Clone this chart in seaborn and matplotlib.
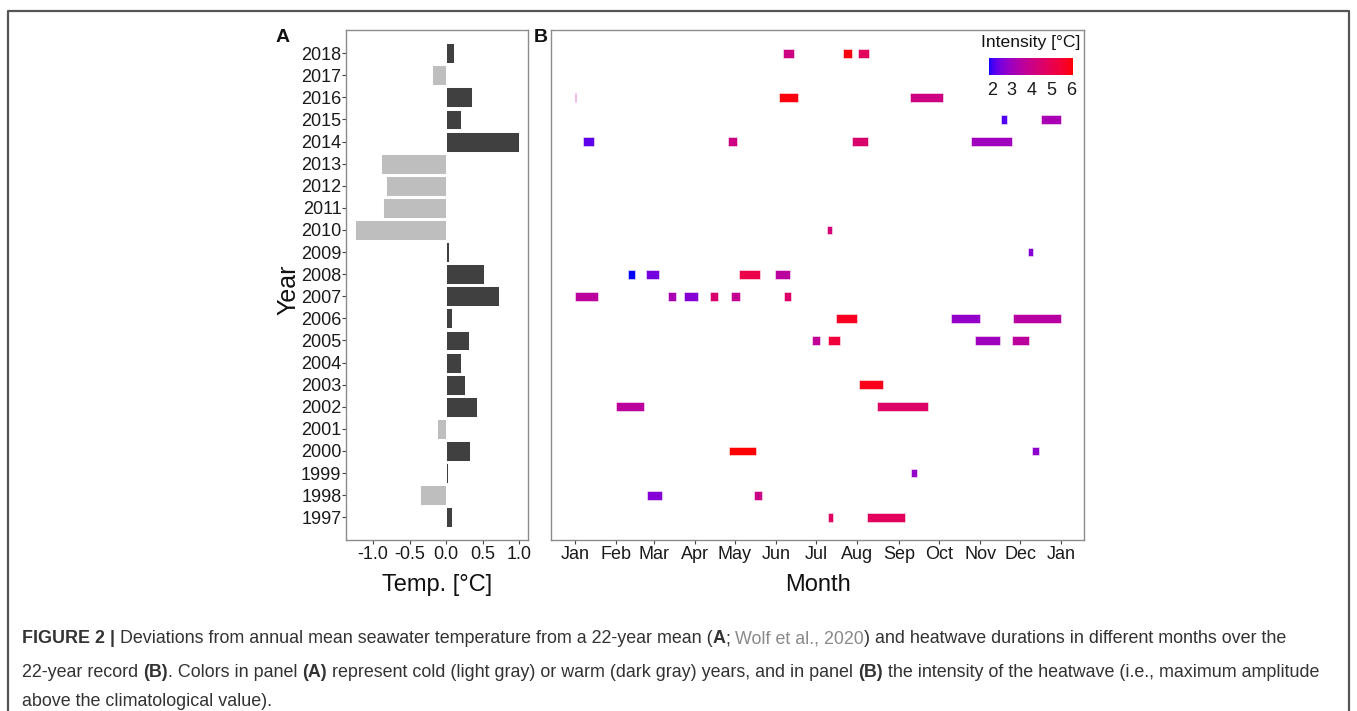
import numpy as np
import pandas as pd
import matplotlib
matplotlib.use("Agg")
import matplotlib.pyplot as plt
import seaborn as sns
from matplotlib.colors import ListedColormap, Normalize
from matplotlib.cm import ScalarMappable
from matplotlib.lines import Line2D

# ---------------- data ----------------
years = [2018, 2017, 2016, 2015, 2014, 2013, 2012, 2011, 2010, 2009, 2008,
         2007, 2006, 2005, 2004, 2003, 2002, 2001, 2000, 1999, 1998, 1997]
temp_dev = [0.11, -0.20, 0.35, 0.21, 1.00, -0.89, -0.82, -0.86, -1.25, 0.045, 0.52,
            0.73, 0.08, 0.31, 0.20, 0.26, 0.42, -0.13, 0.32, 0.03, -0.36, 0.08]

seg_year = [2018, 2018, 2018,
            2016, 2016, 2016,
            2015, 2015,
            2014, 2014, 2014, 2014,
            2010,
            2009,
            2008, 2008, 2008, 2008,
            2007, 2007, 2007, 2007, 2007, 2007,
            2006, 2006, 2006,
            2005, 2005, 2005, 2005,
            2003,
            2002, 2002,
            2000, 2000,
            1999,
            1998, 1998,
            1997, 1997]
seg_start = [156, 201, 212.5,
             0, 153, 251.5,
             320, 350,
             6, 115, 208, 297,
             189,
             340,
             40, 53, 123, 150,
             0, 70, 82, 101, 117, 157,
             196, 282, 329,
             178, 190, 300, 328,
             213,
             31, 227,
             115.5, 343,
             252.5,
             54, 134,
             190, 219]
seg_end = [164, 208, 221,
           1, 167, 276,
           324, 364.5,
           14, 121.5, 220, 328,
           193,
           344,
           45, 63, 139, 161,
           17, 76, 92, 107, 124, 162,
           212, 304, 364.5,
           184, 199, 319, 341,
           231,
           52, 265,
           136, 348,
           257,
           65, 140,
           194, 248]
seg_intensity = [4.1, 6.0, 4.8,
                 3.6, 6.0, 4.1,
                 2.1, 3.2,
                 2.2, 4.1, 4.5, 3.0,
                 4.3,
                 2.6,
                 1.85, 2.4, 5.2, 3.6,
                 3.6, 3.2, 2.6, 4.5, 3.8, 4.6,
                 5.8, 2.8, 3.5,
                 3.7, 5.4, 3.0, 3.6,
                 5.9,
                 3.6, 4.6,
                 6.1, 2.7,
                 2.8,
                 2.6, 4.0,
                 4.7, 4.8]

month_days = [0, 31, 59, 90, 120, 151, 181, 212, 243, 273, 304, 334, 365]
month_labels = ["Jan", "Feb", "Mar", "Apr", "May", "Jun", "Jul", "Aug", "Sep",
                "Oct", "Nov", "Dec", "Jan"]
temp_ticks = [-1.0, -0.5, 0.0, 0.5, 1.0]
temp_ticklabels = ["-1.0", "-0.5", "0.0", "0.5", "1.0"]
cbar_ticks = [2, 3, 4, 5, 6]

# ---------------- style ----------------
sns.set_theme(style="white")
plt.rcParams["font.family"] = ["Liberation Sans", "DejaVu Sans"]
plt.rcParams["axes.unicode_minus"] = False

W, H = 1357, 711
fig = plt.figure(figsize=(W / 100, H / 100), dpi=100)
fig.patch.set_facecolor("white")


def ax_px(l, t, r, b):
    return fig.add_axes([l / W, 1 - b / H, (r - l) / W, (b - t) / H])


# ggplot-like blue->red gradient interpolated in Lab space
def _srgb_to_lin(c):
    return np.where(c <= 0.04045, c / 12.92, ((c + 0.055) / 1.055) ** 2.4)


def _lin_to_srgb(c):
    c = np.clip(c, 0, 1)
    return np.where(c <= 0.0031308, 12.92 * c, 1.055 * c ** (1 / 2.4) - 0.055)


M = np.array([[0.4124, 0.3576, 0.1805], [0.2126, 0.7152, 0.0722], [0.0193, 0.1192, 0.9505]])
Minv = np.linalg.inv(M)
WP = np.array([0.95047, 1.0, 1.08883])


def rgb2lab(rgb):
    xyz = M @ _srgb_to_lin(np.asarray(rgb, float)) / WP
    f = np.where(xyz > 0.008856, np.cbrt(xyz), 7.787 * xyz + 16 / 116)
    return np.array([116 * f[1] - 16, 500 * (f[0] - f[1]), 200 * (f[1] - f[2])])


def lab2rgb(lab):
    L, a, b = lab
    fy = (L + 16) / 116
    fx = fy + a / 500
    fz = fy - b / 200
    f = np.array([fx, fy, fz])
    xyz = np.where(f ** 3 > 0.008856, f ** 3, (f - 16 / 116) / 7.787) * WP
    return _lin_to_srgb(Minv @ xyz)


lab_lo, lab_hi = rgb2lab([0, 0, 1]), rgb2lab([1, 0, 0])
cols = [lab2rgb(lab_lo + (lab_hi - lab_lo) * t) for t in np.linspace(0, 1, 256)]
cmap = ListedColormap(np.clip(cols, 0, 1))
norm = Normalize(vmin=min(seg_intensity), vmax=max(seg_intensity))

TICK_FS = 13
# ---------------- panel A ----------------
axA = ax_px(346, 30, 528, 540)
order = [str(y) for y in years]
dfA = pd.DataFrame({"year": [str(y) for y in years], "temp": temp_dev})
dfA["kind"] = np.where(dfA["temp"] < 0, "cold", "warm")
sns.barplot(data=dfA, x="temp", y="year", hue="kind", order=order,
            hue_order=["cold", "warm"],
            palette={"cold": "#bebebe", "warm": "#404040"},
            dodge=False, width=0.9, errorbar=None, legend=False,
            edgecolor="white", linewidth=0.7, ax=axA)
axA.set_xlim(-1.37, 1.12)
axA.set_ylim(21 + 1.03, -1.05)
axA.set_xticks(temp_ticks)
axA.set_xticklabels(temp_ticklabels)
axA.set_xlabel("")
axA.set_ylabel("")

# ---------------- panel B ----------------
axB = ax_px(551, 30, 1084, 540)
pos = [order.index(str(y)) for y in seg_year]
widths = [e - s for s, e in zip(seg_start, seg_end)]
colors = [cmap(norm(v)) for v in seg_intensity]
axB.barh(pos, widths, left=seg_start, height=0.4, color=colors,
         edgecolor=(1, 1, 1, 0.6), linewidth=0.6)
axB.set_xlim(-18, 382)
axB.set_ylim(21 + 1.03, -1.05)
axB.set_yticks([])
axB.set_xticks(month_days)
axB.set_xticklabels(month_labels)

for ax in (axA, axB):
    for sp in ax.spines.values():
        sp.set_visible(True)
        sp.set_color("#8c8c8c")
        sp.set_linewidth(1.0)
    ax.tick_params(axis="both", which="both", length=3, width=0.8, color="#444444",
                   labelsize=TICK_FS, labelcolor="#1a1a1a", pad=1.5,
                   bottom=True, left=(ax is axA))
    ax.grid(False)
    ax.set_facecolor("white")
axA.tick_params(axis="y", pad=0.3)

# axis titles and panel letters
fig.text(437 / W, 1 - 585 / H, "Temp. [°C]", ha="center", va="center", fontsize=17, color="#111111")
fig.text(818 / W, 1 - 585 / H, "Month", ha="center", va="center", fontsize=17, color="#111111")
fig.text(288 / W, 1 - 290 / H, "Year", ha="center", va="center", rotation=90, fontsize=18, color="#111111")
fig.text(283 / W, 1 - 38 / H, "A", ha="center", va="center", fontsize=14, fontweight="bold", color="#111111")
fig.text(541 / W, 1 - 38 / H, "B", ha="center", va="center", fontsize=14, fontweight="bold", color="#111111")

# colour legend
fig.text(1031 / W, 1 - 43 / H, "Intensity [°C]", ha="center", va="center", fontsize=12.6, color="#111111")
cax = ax_px(989, 58, 1073, 75)
cb = fig.colorbar(ScalarMappable(norm=norm, cmap=cmap), cax=cax, orientation="horizontal")
cb.outline.set_visible(False)
cb.set_ticks(cbar_ticks)
cax.tick_params(axis="x", direction="in", length=3, width=0.8, color="white",
                labelsize=TICK_FS, labelcolor="#1a1a1a", pad=5)

# outer frame
fig.add_artist(Line2D([8 / W, 8 / W, 1349 / W, 1349 / W], [0, 1 - 11 / H, 1 - 11 / H, 0],
                      transform=fig.transFigure, color="#555555", lw=1.6))

# ---------------- caption ----------------
renderer = fig.canvas.get_renderer()


def measure(s, **kw):
    t = fig.text(0, 0, s, **kw)
    w = t.get_window_extent(renderer).width
    t.remove()
    return w


cap_color = "#333333"
lines = [
    [("FIGURE 2 |", "bold", cap_color, False),
     ("Deviations from annual mean seawater temperature from a 22-year mean (", "normal", cap_color, True),
     ("A", "bold", cap_color, False),
     (";", "normal", cap_color, False),
     ("Wolf et al., 2020", "normal", "#8a8a8a", True),
     (") and heatwave durations in different months over the", "normal", cap_color, False)],
    [("22-year record", "normal", cap_color, False),
     ("(B)", "bold", cap_color, True),
     (". Colors in panel", "normal", cap_color, False),
     ("(A)", "bold", cap_color, True),
     ("represent cold (light gray) or warm (dark gray) years, and in panel", "normal", cap_color, True),
     ("(B)", "bold", cap_color, True),
     ("the intensity of the heatwave (i.e., maximum amplitude", "normal", cap_color, True)],
    [("above the climatological value).", "normal", cap_color, False)],
]


def line_width(pieces, fs):
    sp = measure("a a", fontsize=fs) - measure("aa", fontsize=fs)
    w = 0
    for txt, wt, c, s in pieces:
        if s:
            w += sp
        w += measure(txt, fontsize=fs, fontweight=wt)
    return w


fs0 = 12
fs = min(fs0 * 1309 / line_width(lines[0], fs0), fs0 * 1304 / line_width(lines[1], fs0))
sp = measure("a a", fontsize=fs) - measure("aa", fontsize=fs)
baselines = [643, 677, 706]
for pieces, yb in zip(lines, baselines):
    x = 22
    for txt, wt, c, s in pieces:
        if s:
            x += sp
        t = fig.text(x / W, 1 - yb / H, txt, fontsize=fs, fontweight=wt, color=c,
                     ha="left", va="baseline")
        x += t.get_window_extent(renderer).width

fig.savefig("out.png", dpi=100, facecolor="white")
